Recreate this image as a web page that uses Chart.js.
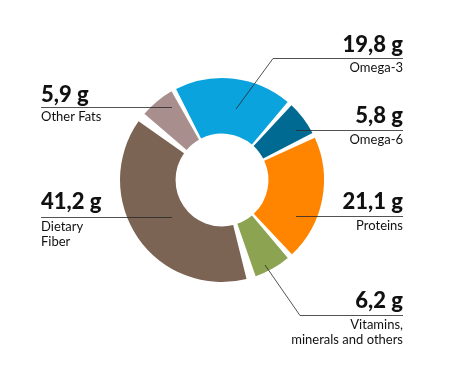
<!DOCTYPE html>
<html lang="en">
  <head>
    <meta charset="UTF-8" />
    <title>Nutrients</title>
    <script src="https://cdn.jsdelivr.net/npm/chart.js"></script>
    <style>
      html, body { margin: 0; padding: 0; background: #fff; }
      #wrap { width: 450px; height: 374px; position: relative; }
    </style>
  </head>
  <body>
    <div id="wrap">
      <canvas id="grafico"></canvas>
    </div>
  </body>
</html>

<script>
  // dados
  const nomes = ["Omega-3", "Omega-6", "Proteins", "Vitamins, minerals and others", "Dietary Fiber", "Other Fats"];
  const valores = [19.8, 5.8, 21.1, 6.2, 41.2, 5.9];
  const textosValor = ["19,8 g", "5,8 g", "21,1 g", "6,2 g", "41,2 g", "5,9 g"];
  const cores = ["#0aa3dd", "#006a93", "#ff8400", "#8ca452", "#7b6454", "#a88f8e"];

  // onde fica cada rotulo (texto, linha e ponta dentro da fatia)
  const rotulos = [
    { linhas: ["Omega-3"], lado: "dir", x: 403, base: 52, linhaY: 58, fimX: 273, ponta: [236, 109] },
    { linhas: ["Omega-6"], lado: "dir", x: 403, base: 123, linhaY: 130, fimX: 296, ponta: null },
    { linhas: ["Proteins"], lado: "dir", x: 403, base: 209, linhaY: 216, fimX: 296, ponta: null },
    { linhas: ["Vitamins,", "minerals and others"], lado: "dir", x: 403, base: 308, linhaY: 315, fimX: 300, ponta: [265, 265] },
    { linhas: ["Dietary", "Fiber"], lado: "esq", x: 41, base: 209, linhaY: 217, fimX: 172, ponta: null },
    { linhas: ["Other Fats"], lado: "esq", x: 41, base: 102, linhaY: 107, fimX: 172, ponta: null },
  ];

  const pluginRotulos = {
    id: "rotulos",
    afterDraw(chart) {
      const ctx = chart.ctx;
      ctx.save();
      rotulos.forEach(function (r, i) {
        ctx.textAlign = r.lado === "dir" ? "right" : "left";
        ctx.textBaseline = "alphabetic";
        ctx.fillStyle = "#111";
        ctx.font = "900 22px Lato";
        ctx.fillText(textosValor[i], r.x, r.base);

        ctx.font = "13px Lato";
        r.linhas.forEach(function (t, k) {
          ctx.fillText(t, r.x, r.linhaY + 14 + k * 15);
        });

        // linha horizontal + ponta
        ctx.strokeStyle = "rgba(40,40,40,0.8)";
        ctx.lineWidth = 1;
        ctx.beginPath();
        ctx.moveTo(r.x, r.linhaY + 0.5);
        ctx.lineTo(r.fimX, r.linhaY + 0.5);
        if (r.ponta) {
          ctx.lineTo(r.ponta[0], r.ponta[1]);
        }
        ctx.stroke();
      });
      ctx.restore();
    },
  };

  new Chart(document.getElementById("grafico"), {
    type: "doughnut",
    data: {
      labels: nomes,
      datasets: [
        {
          data: valores,
          backgroundColor: cores,
          borderWidth: 0,
          spacing: 9,
        },
      ],
    },
    options: {
      responsive: true,
      maintainAspectRatio: false,
      animation: false,
      rotation: -29,
      cutout: "43%",
      layout: { padding: { left: 120, right: 126, top: 78, bottom: 92 } },
      plugins: {
        legend: { display: false },
        tooltip: { enabled: false },
      },
    },
    plugins: [pluginRotulos],
  });
</script>
